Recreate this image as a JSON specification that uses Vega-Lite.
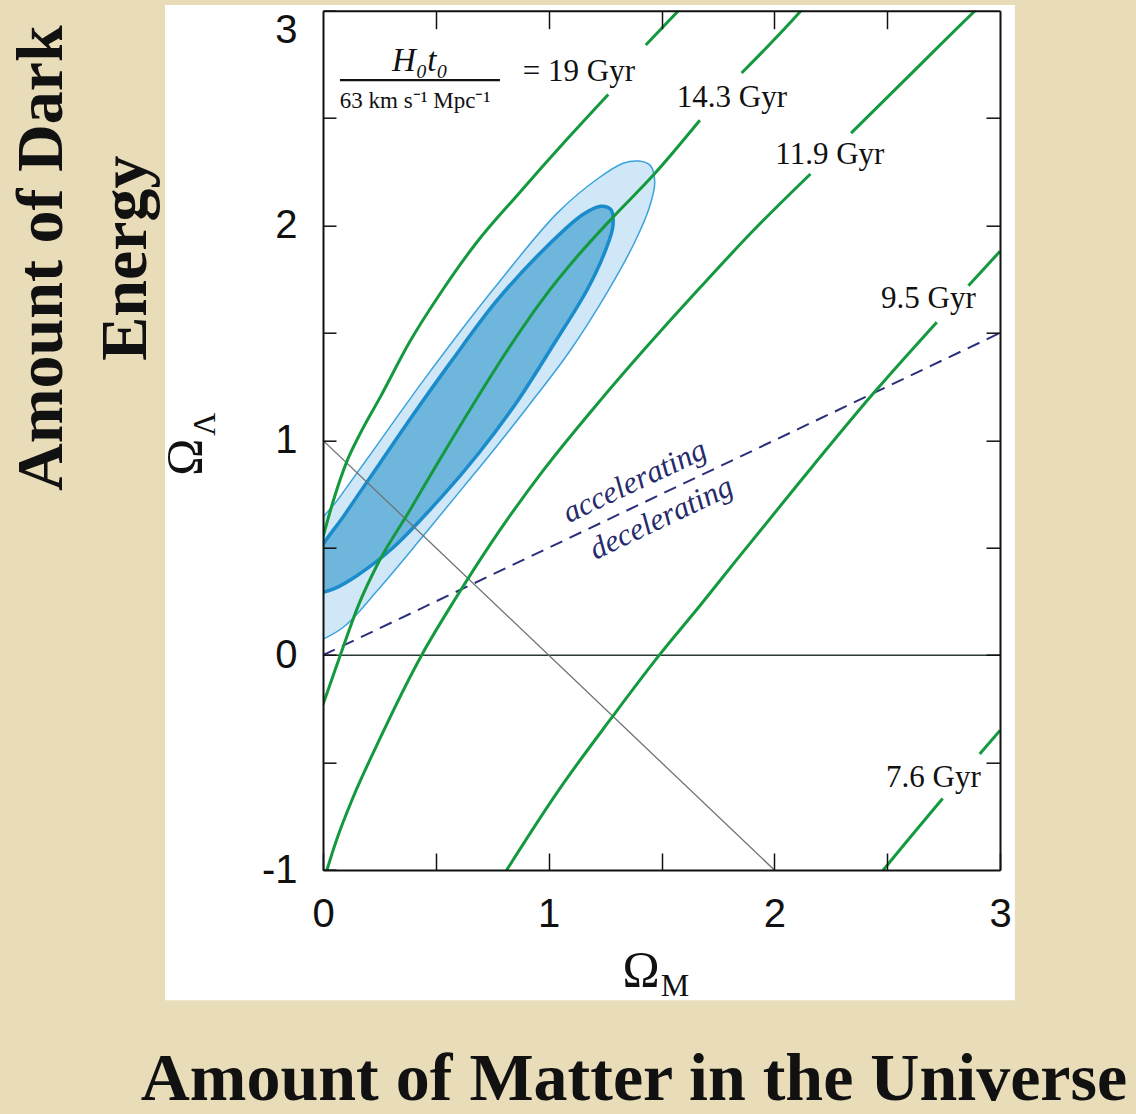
{
  "$schema": "https://vega.github.io/schema/vega-lite/v6.json",
  "width": 677,
  "height": 859.3,
  "autosize": {"type": "none"},
  "padding": {"left": 323, "top": 10.7, "right": 136, "bottom": 244},
  "background": "#e8dcb9",
  "config": {"view": {"stroke": null}},
  "resolve": {"axis": {"x": "independent", "y": "independent"}},
  "datasets": {
    "ages": [
      {"curve": "19", "seg": "A1", "i": 0, "x": 0, "y": 0.55},
      {"curve": "19", "seg": "A1", "i": 1, "x": 0.046, "y": 0.72},
      {"curve": "19", "seg": "A1", "i": 2, "x": 0.105, "y": 0.9},
      {"curve": "19", "seg": "A1", "i": 3, "x": 0.164, "y": 1.03},
      {"curve": "19", "seg": "A1", "i": 4, "x": 0.253, "y": 1.2},
      {"curve": "19", "seg": "A1", "i": 5, "x": 0.385, "y": 1.46},
      {"curve": "19", "seg": "A1", "i": 6, "x": 0.53, "y": 1.7},
      {"curve": "19", "seg": "A1", "i": 7, "x": 0.68, "y": 1.92},
      {"curve": "19", "seg": "A1", "i": 8, "x": 0.86, "y": 2.14},
      {"curve": "19", "seg": "A1", "i": 9, "x": 1.08, "y": 2.4},
      {"curve": "19", "seg": "A1", "i": 10, "x": 1.264, "y": 2.61},
      {"curve": "19", "seg": "A2", "i": 11, "x": 1.43, "y": 2.84},
      {"curve": "19", "seg": "A2", "i": 12, "x": 1.575, "y": 3.0},
      {"curve": "19", "seg": "A2", "i": 13, "x": 1.62, "y": 3.05},
      {"curve": "14.3", "seg": "B1", "i": 0, "x": 0, "y": -0.23},
      {"curve": "14.3", "seg": "B1", "i": 1, "x": 0.08, "y": 0.01},
      {"curve": "14.3", "seg": "B1", "i": 2, "x": 0.16, "y": 0.24},
      {"curve": "14.3", "seg": "B1", "i": 3, "x": 0.24, "y": 0.42},
      {"curve": "14.3", "seg": "B1", "i": 4, "x": 0.385, "y": 0.675},
      {"curve": "14.3", "seg": "B1", "i": 5, "x": 0.5, "y": 0.88},
      {"curve": "14.3", "seg": "B1", "i": 6, "x": 0.673, "y": 1.18},
      {"curve": "14.3", "seg": "B1", "i": 7, "x": 0.83, "y": 1.44},
      {"curve": "14.3", "seg": "B1", "i": 8, "x": 0.976, "y": 1.66},
      {"curve": "14.3", "seg": "B1", "i": 9, "x": 1.13, "y": 1.86},
      {"curve": "14.3", "seg": "B1", "i": 10, "x": 1.286, "y": 2.04},
      {"curve": "14.3", "seg": "B1", "i": 11, "x": 1.46, "y": 2.23},
      {"curve": "14.3", "seg": "B1", "i": 12, "x": 1.67, "y": 2.49},
      {"curve": "14.3", "seg": "B2", "i": 13, "x": 1.855, "y": 2.71},
      {"curve": "14.3", "seg": "B2", "i": 14, "x": 2.11, "y": 2.99},
      {"curve": "14.3", "seg": "B2", "i": 15, "x": 2.16, "y": 3.05},
      {"curve": "11.9", "seg": "C1", "i": 0, "x": 0, "y": -1.06},
      {"curve": "11.9", "seg": "C1", "i": 1, "x": 0.06, "y": -0.86},
      {"curve": "11.9", "seg": "C1", "i": 2, "x": 0.13, "y": -0.67},
      {"curve": "11.9", "seg": "C1", "i": 3, "x": 0.238, "y": -0.42},
      {"curve": "11.9", "seg": "C1", "i": 4, "x": 0.437, "y": 0.0},
      {"curve": "11.9", "seg": "C1", "i": 5, "x": 0.585, "y": 0.26},
      {"curve": "11.9", "seg": "C1", "i": 6, "x": 0.75, "y": 0.53},
      {"curve": "11.9", "seg": "C1", "i": 7, "x": 0.976, "y": 0.86},
      {"curve": "11.9", "seg": "C1", "i": 8, "x": 1.24, "y": 1.2},
      {"curve": "11.9", "seg": "C1", "i": 9, "x": 1.54, "y": 1.56},
      {"curve": "11.9", "seg": "C1", "i": 10, "x": 1.67, "y": 1.71},
      {"curve": "11.9", "seg": "C1", "i": 11, "x": 1.91, "y": 1.98},
      {"curve": "11.9", "seg": "C1", "i": 12, "x": 2.16, "y": 2.24},
      {"curve": "11.9", "seg": "C2", "i": 13, "x": 2.34, "y": 2.43},
      {"curve": "11.9", "seg": "C2", "i": 14, "x": 2.6, "y": 2.7},
      {"curve": "11.9", "seg": "C2", "i": 15, "x": 2.89, "y": 3.0},
      {"curve": "11.9", "seg": "C2", "i": 16, "x": 2.94, "y": 3.05},
      {"curve": "9.5", "seg": "D1", "i": 0, "x": 0.79, "y": -1.04},
      {"curve": "9.5", "seg": "D1", "i": 1, "x": 0.814, "y": -1.0},
      {"curve": "9.5", "seg": "D1", "i": 2, "x": 1.05, "y": -0.62},
      {"curve": "9.5", "seg": "D1", "i": 3, "x": 1.28, "y": -0.29},
      {"curve": "9.5", "seg": "D1", "i": 4, "x": 1.49, "y": 0.0},
      {"curve": "9.5", "seg": "D1", "i": 5, "x": 1.67, "y": 0.23},
      {"curve": "9.5", "seg": "D1", "i": 6, "x": 1.83, "y": 0.44},
      {"curve": "9.5", "seg": "D1", "i": 7, "x": 2.1, "y": 0.79},
      {"curve": "9.5", "seg": "D1", "i": 8, "x": 2.44, "y": 1.22},
      {"curve": "9.5", "seg": "D1", "i": 9, "x": 2.72, "y": 1.55},
      {"curve": "9.5", "seg": "D2", "i": 10, "x": 2.86, "y": 1.72},
      {"curve": "9.5", "seg": "D2", "i": 11, "x": 3.0, "y": 1.88},
      {"curve": "7.6", "seg": "E1", "i": 0, "x": 2.46, "y": -1.03},
      {"curve": "7.6", "seg": "E1", "i": 1, "x": 2.483, "y": -1.0},
      {"curve": "7.6", "seg": "E1", "i": 2, "x": 2.746, "y": -0.667},
      {"curve": "7.6", "seg": "E2", "i": 3, "x": 2.91, "y": -0.46},
      {"curve": "7.6", "seg": "E2", "i": 4, "x": 3.0, "y": -0.35}
    ],
    "contours": [
      {"level": "95%", "i": 0, "x": -0.05, "y": 0.05},
      {"level": "95%", "i": 1, "x": 0.09, "y": 0.13},
      {"level": "95%", "i": 2, "x": 0.24, "y": 0.3},
      {"level": "95%", "i": 3, "x": 0.44, "y": 0.55},
      {"level": "95%", "i": 4, "x": 0.62, "y": 0.78},
      {"level": "95%", "i": 5, "x": 0.76, "y": 0.96},
      {"level": "95%", "i": 6, "x": 0.91, "y": 1.16},
      {"level": "95%", "i": 7, "x": 1.09, "y": 1.41},
      {"level": "95%", "i": 8, "x": 1.26, "y": 1.69},
      {"level": "95%", "i": 9, "x": 1.38, "y": 1.92},
      {"level": "95%", "i": 10, "x": 1.445, "y": 2.08},
      {"level": "95%", "i": 11, "x": 1.47, "y": 2.2},
      {"level": "95%", "i": 12, "x": 1.45, "y": 2.28},
      {"level": "95%", "i": 13, "x": 1.4, "y": 2.3},
      {"level": "95%", "i": 14, "x": 1.33, "y": 2.29},
      {"level": "95%", "i": 15, "x": 1.22, "y": 2.22},
      {"level": "95%", "i": 16, "x": 1.04, "y": 2.06},
      {"level": "95%", "i": 17, "x": 0.76, "y": 1.71},
      {"level": "95%", "i": 18, "x": 0.46, "y": 1.3},
      {"level": "95%", "i": 19, "x": 0.2, "y": 0.92},
      {"level": "95%", "i": 20, "x": 0.07, "y": 0.73},
      {"level": "95%", "i": 21, "x": -0.05, "y": 0.55},
      {"level": "95%", "i": 22, "x": -0.05, "y": 0.05},
      {"level": "68%", "i": 0, "x": -0.05, "y": 0.28},
      {"level": "68%", "i": 1, "x": 0.05, "y": 0.31},
      {"level": "68%", "i": 2, "x": 0.15, "y": 0.37},
      {"level": "68%", "i": 3, "x": 0.31, "y": 0.5},
      {"level": "68%", "i": 4, "x": 0.52, "y": 0.73},
      {"level": "68%", "i": 5, "x": 0.69, "y": 0.94},
      {"level": "68%", "i": 6, "x": 0.86, "y": 1.18},
      {"level": "68%", "i": 7, "x": 1.03, "y": 1.46},
      {"level": "68%", "i": 8, "x": 1.17, "y": 1.7},
      {"level": "68%", "i": 9, "x": 1.25, "y": 1.88},
      {"level": "68%", "i": 10, "x": 1.285, "y": 2.0},
      {"level": "68%", "i": 11, "x": 1.275, "y": 2.075},
      {"level": "68%", "i": 12, "x": 1.23, "y": 2.09},
      {"level": "68%", "i": 13, "x": 1.15, "y": 2.05},
      {"level": "68%", "i": 14, "x": 0.98, "y": 1.89},
      {"level": "68%", "i": 15, "x": 0.77, "y": 1.65},
      {"level": "68%", "i": 16, "x": 0.57, "y": 1.37},
      {"level": "68%", "i": 17, "x": 0.4, "y": 1.12},
      {"level": "68%", "i": 18, "x": 0.25, "y": 0.89},
      {"level": "68%", "i": 19, "x": 0.1, "y": 0.66},
      {"level": "68%", "i": 20, "x": -0.05, "y": 0.42},
      {"level": "68%", "i": 21, "x": -0.05, "y": 0.28}
    ],
    "lines": [
      {"name": "flat", "i": 0, "x": 0, "y": 1},
      {"name": "flat", "i": 1, "x": 2, "y": -1},
      {"name": "zero", "i": 0, "x": 0, "y": 0},
      {"name": "zero", "i": 1, "x": 3, "y": 0},
      {"name": "q0", "i": 0, "x": 0, "y": 0},
      {"name": "q0", "i": 1, "x": 3, "y": 1.5},
      {"name": "bar", "i": 0, "x": 0.075, "y": 2.677},
      {"name": "bar", "i": 1, "x": 0.784, "y": 2.677}
    ],
    "labels": [
      {"kind": "gyr", "text": "= 19 Gyr", "x": 1.134, "y": 2.714},
      {"kind": "gyr", "text": "14.3 Gyr", "x": 1.812, "y": 2.593},
      {"kind": "gyr", "text": "11.9 Gyr", "x": 2.246, "y": 2.328},
      {"kind": "gyr", "text": "9.5 Gyr", "x": 2.683, "y": 1.657},
      {"kind": "gyr", "text": "7.6 Gyr", "x": 2.705, "y": -0.573},
      {"kind": "num", "text": "H₀t₀", "x": 0.43, "y": 2.765},
      {"kind": "den", "text": "63 km s⁻¹ Mpc⁻¹", "x": 0.408, "y": 2.579},
      {"kind": "regime", "text": "accelerating", "x": 1.382, "y": 0.807},
      {"kind": "regime", "text": "decelerating", "x": 1.5, "y": 0.636},
      {"kind": "sym", "text": "Ω", "x": 1.409, "y": -1.471},
      {"kind": "sub", "text": "M", "x": 1.56, "y": -1.541},
      {"kind": "symv", "text": "Ω", "x": -0.607, "y": 0.922},
      {"kind": "subv", "text": "Λ", "x": -0.523, "y": 1.075},
      {"kind": "titleh", "text": "Amount of Matter in the Universe", "x": 1.378, "y": -2.1345},
      {"kind": "titlev", "text": "Amount of Dark\nEnergy", "x": -1.1564, "y": 1.848}
    ]
  },
  "layer": [
    {
      "data": {"values": [{}]},
      "mark": {"type": "rect", "fill": "white", "clip": false},
      "encoding": {
        "x": {"datum": -0.7, "type": "quantitative", "scale": {"domain": [0, 3], "nice": false, "zero": false}, "axis": null},
        "x2": {"datum": 3.066},
        "y": {"datum": 3.026, "type": "quantitative", "scale": {"domain": [-1, 3], "nice": false, "zero": false}, "axis": null},
        "y2": {"datum": -1.606}
      }
    },
    {
      "data": {"name": "contours"},
      "transform": [{"filter": "datum.level == '95%'"}],
      "mark": {"type": "line", "fill": "#cfe7f6", "stroke": "#3aa3dc", "strokeWidth": 1.5, "interpolate": "catmull-rom", "clip": true},
      "encoding": {
        "x": {"field": "x", "type": "quantitative", "scale": {"domain": [0, 3], "nice": false, "zero": false}, "axis": null},
        "y": {"field": "y", "type": "quantitative", "scale": {"domain": [-1, 3], "nice": false, "zero": false}, "axis": null},
        "order": {"field": "i", "type": "quantitative"}
      }
    },
    {
      "data": {"name": "contours"},
      "transform": [{"filter": "datum.level == '68%'"}],
      "mark": {"type": "line", "fill": "#6fb6dc", "stroke": "#1a8bcb", "strokeWidth": 3.5, "interpolate": "catmull-rom", "clip": true},
      "encoding": {
        "x": {"field": "x", "type": "quantitative", "scale": {"domain": [0, 3], "nice": false, "zero": false}, "axis": null},
        "y": {"field": "y", "type": "quantitative", "scale": {"domain": [-1, 3], "nice": false, "zero": false}, "axis": null},
        "order": {"field": "i", "type": "quantitative"}
      }
    },
    {
      "data": {"name": "lines"},
      "transform": [{"filter": "datum.name == 'zero'"}],
      "mark": {"type": "line", "color": "#2b3838", "strokeWidth": 1.5, "clip": true},
      "encoding": {
        "x": {"field": "x", "type": "quantitative", "scale": {"domain": [0, 3], "nice": false, "zero": false}, "axis": null},
        "y": {"field": "y", "type": "quantitative", "scale": {"domain": [-1, 3], "nice": false, "zero": false}, "axis": null},
        "order": {"field": "i", "type": "quantitative"}
      }
    },
    {
      "data": {"name": "lines"},
      "transform": [{"filter": "datum.name == 'flat'"}],
      "mark": {"type": "line", "color": "#6d7272", "strokeWidth": 1.3, "clip": true},
      "encoding": {
        "x": {"field": "x", "type": "quantitative", "scale": {"domain": [0, 3], "nice": false, "zero": false},
          "axis": {"orient": "top", "values": [0.5, 1, 1.5, 2, 2.5], "labels": false, "tickSize": -18, "tickWidth": 1.5, "tickColor": "#111", "domainColor": "#111", "domainWidth": 2, "grid": false, "title": null, "zindex": 1}},
        "y": {"field": "y", "type": "quantitative", "scale": {"domain": [-1, 3], "nice": false, "zero": false},
          "axis": {"orient": "right", "values": [-0.5, 0, 0.5, 1, 1.5, 2, 2.5], "labels": false, "tickSize": -14, "tickWidth": 1.5, "tickColor": "#111", "domainColor": "#111", "domainWidth": 2, "grid": false, "title": null, "zindex": 1}},
        "order": {"field": "i", "type": "quantitative"}
      }
    },
    {
      "data": {"name": "lines"},
      "transform": [{"filter": "datum.name == 'q0'"}],
      "mark": {"type": "line", "color": "#2b2f7c", "strokeWidth": 2, "strokeDash": [13, 8], "clip": true},
      "encoding": {
        "x": {"field": "x", "type": "quantitative", "scale": {"domain": [0, 3], "nice": false, "zero": false}, "axis": null},
        "y": {"field": "y", "type": "quantitative", "scale": {"domain": [-1, 3], "nice": false, "zero": false}, "axis": null},
        "order": {"field": "i", "type": "quantitative"}
      }
    },
    {
      "data": {"name": "ages"},
      "mark": {"type": "line", "color": "#14993f", "strokeWidth": 3, "interpolate": "monotone", "clip": true},
      "encoding": {
        "x": {"field": "x", "type": "quantitative", "scale": {"domain": [0, 3], "nice": false, "zero": false},
          "axis": {"orient": "bottom", "values": [0, 0.5, 1, 1.5, 2, 2.5, 3], "labelExpr": "datum.value % 1 === 0 ? '' + datum.value : ''", "tickSize": -17, "tickWidth": 1.5, "tickColor": "#111", "domainColor": "#111", "domainWidth": 2, "labelFont": "Liberation Sans", "labelFontSize": 40, "labelColor": "#111", "labelPadding": 41, "labelFlush": false, "labelOverlap": false, "grid": false, "title": null, "zindex": 1}},
        "y": {"field": "y", "type": "quantitative", "scale": {"domain": [-1, 3], "nice": false, "zero": false},
          "axis": {"orient": "left", "values": [-1, -0.5, 0, 0.5, 1, 1.5, 2, 2.5, 3], "labelExpr": "datum.value % 1 === 0 ? '' + datum.value : ''", "tickSize": -13, "tickWidth": 1.5, "tickColor": "#111", "domainColor": "#111", "domainWidth": 2, "labelFont": "Liberation Sans", "labelFontSize": 40, "labelColor": "#111", "labelPadding": 39, "labelFlush": false, "labelOverlap": false, "labelBaseline": {"condition": {"test": "datum.value == 3", "value": "top"}, "value": "middle"}, "grid": false, "title": null, "zindex": 1}},
        "detail": {"field": "seg", "type": "nominal"},
        "order": {"field": "i", "type": "quantitative"}
      }
    },
    {
      "data": {"name": "lines"},
      "transform": [{"filter": "datum.name == 'bar'"}],
      "mark": {"type": "line", "color": "#111", "strokeWidth": 2.2, "clip": false},
      "encoding": {
        "x": {"field": "x", "type": "quantitative", "scale": {"domain": [0, 3], "nice": false, "zero": false}, "axis": null},
        "y": {"field": "y", "type": "quantitative", "scale": {"domain": [-1, 3], "nice": false, "zero": false}, "axis": null},
        "order": {"field": "i", "type": "quantitative"}
      }
    },
    {
      "data": {"name": "labels"},
      "transform": [{"filter": "datum.kind == 'gyr'"}],
      "mark": {"type": "text", "font": "Liberation Serif", "fontSize": 31, "color": "#111", "align": "center", "baseline": "middle"},
      "encoding": {
        "x": {"field": "x", "type": "quantitative", "scale": {"domain": [0, 3], "nice": false, "zero": false}, "axis": null},
        "y": {"field": "y", "type": "quantitative", "scale": {"domain": [-1, 3], "nice": false, "zero": false}, "axis": null},
        "text": {"field": "text"}
      }
    },
    {
      "data": {"name": "labels"},
      "transform": [{"filter": "datum.kind == 'num'"}],
      "mark": {"type": "text", "font": "Liberation Serif", "fontStyle": "italic", "fontSize": 33, "color": "#111", "align": "center", "baseline": "middle"},
      "encoding": {
        "x": {"field": "x", "type": "quantitative", "scale": {"domain": [0, 3], "nice": false, "zero": false}, "axis": null},
        "y": {"field": "y", "type": "quantitative", "scale": {"domain": [-1, 3], "nice": false, "zero": false}, "axis": null},
        "text": {"field": "text"}
      }
    },
    {
      "data": {"name": "labels"},
      "transform": [{"filter": "datum.kind == 'den'"}],
      "mark": {"type": "text", "font": "Liberation Serif", "fontSize": 23, "color": "#111", "align": "center", "baseline": "middle"},
      "encoding": {
        "x": {"field": "x", "type": "quantitative", "scale": {"domain": [0, 3], "nice": false, "zero": false}, "axis": null},
        "y": {"field": "y", "type": "quantitative", "scale": {"domain": [-1, 3], "nice": false, "zero": false}, "axis": null},
        "text": {"field": "text"}
      }
    },
    {
      "data": {"name": "labels"},
      "transform": [{"filter": "datum.kind == 'regime'"}],
      "mark": {"type": "text", "font": "Liberation Serif", "fontStyle": "italic", "fontSize": 31, "color": "#262a6b", "align": "center", "baseline": "middle", "angle": -25.4},
      "encoding": {
        "x": {"field": "x", "type": "quantitative", "scale": {"domain": [0, 3], "nice": false, "zero": false}, "axis": null},
        "y": {"field": "y", "type": "quantitative", "scale": {"domain": [-1, 3], "nice": false, "zero": false}, "axis": null},
        "text": {"field": "text"}
      }
    },
    {
      "data": {"name": "labels"},
      "transform": [{"filter": "datum.kind == 'sym'"}],
      "mark": {"type": "text", "font": "Liberation Serif", "fontSize": 50, "color": "#111", "align": "center", "baseline": "middle"},
      "encoding": {
        "x": {"field": "x", "type": "quantitative", "scale": {"domain": [0, 3], "nice": false, "zero": false}, "axis": null},
        "y": {"field": "y", "type": "quantitative", "scale": {"domain": [-1, 3], "nice": false, "zero": false}, "axis": null},
        "text": {"field": "text"}
      }
    },
    {
      "data": {"name": "labels"},
      "transform": [{"filter": "datum.kind == 'sub'"}],
      "mark": {"type": "text", "font": "Liberation Serif", "fontSize": 32, "color": "#111", "align": "center", "baseline": "middle"},
      "encoding": {
        "x": {"field": "x", "type": "quantitative", "scale": {"domain": [0, 3], "nice": false, "zero": false}, "axis": null},
        "y": {"field": "y", "type": "quantitative", "scale": {"domain": [-1, 3], "nice": false, "zero": false}, "axis": null},
        "text": {"field": "text"}
      }
    },
    {
      "data": {"name": "labels"},
      "transform": [{"filter": "datum.kind == 'symv'"}],
      "mark": {"type": "text", "font": "Liberation Serif", "fontSize": 50, "color": "#111", "align": "center", "baseline": "middle", "angle": -90},
      "encoding": {
        "x": {"field": "x", "type": "quantitative", "scale": {"domain": [0, 3], "nice": false, "zero": false}, "axis": null},
        "y": {"field": "y", "type": "quantitative", "scale": {"domain": [-1, 3], "nice": false, "zero": false}, "axis": null},
        "text": {"field": "text"}
      }
    },
    {
      "data": {"name": "labels"},
      "transform": [{"filter": "datum.kind == 'subv'"}],
      "mark": {"type": "text", "font": "Liberation Serif", "fontSize": 32, "color": "#111", "align": "center", "baseline": "middle", "angle": -90},
      "encoding": {
        "x": {"field": "x", "type": "quantitative", "scale": {"domain": [0, 3], "nice": false, "zero": false}, "axis": null},
        "y": {"field": "y", "type": "quantitative", "scale": {"domain": [-1, 3], "nice": false, "zero": false}, "axis": null},
        "text": {"field": "text"}
      }
    },
    {
      "data": {"name": "labels"},
      "transform": [{"filter": "datum.kind == 'titleh'"}],
      "mark": {"type": "text", "font": "Liberation Serif", "fontWeight": "bold", "fontSize": 68, "color": "#111", "align": "center", "baseline": "bottom"},
      "encoding": {
        "x": {"field": "x", "type": "quantitative", "scale": {"domain": [0, 3], "nice": false, "zero": false}, "axis": null},
        "y": {"field": "y", "type": "quantitative", "scale": {"domain": [-1, 3], "nice": false, "zero": false}, "axis": null},
        "text": {"field": "text"}
      }
    },
    {
      "data": {"name": "labels"},
      "transform": [{"filter": "datum.kind == 'titlev'"}],
      "mark": {"type": "text", "font": "Liberation Serif", "fontWeight": "bold", "fontSize": 66, "color": "#111", "align": "center", "baseline": "alphabetic", "angle": -90, "lineBreak": "\n", "lineHeight": 84},
      "encoding": {
        "x": {"field": "x", "type": "quantitative", "scale": {"domain": [0, 3], "nice": false, "zero": false}, "axis": null},
        "y": {"field": "y", "type": "quantitative", "scale": {"domain": [-1, 3], "nice": false, "zero": false}, "axis": null},
        "text": {"field": "text"}
      }
    }
  ]
}
